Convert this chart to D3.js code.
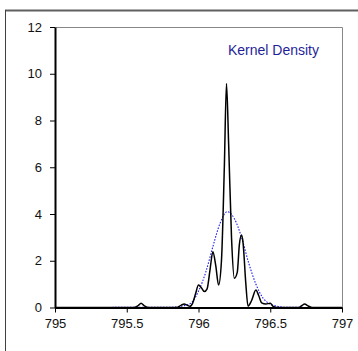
<!DOCTYPE html>
<html><head><meta charset="utf-8">
<script src="https://cdn.jsdelivr.net/npm/d3@7/dist/d3.min.js"></script>
<style>body{margin:0;background:#fff}svg{display:block}text{font-family:"Liberation Sans",Arial,sans-serif}</style>
</head><body><div id="c"></div>
<script>
const xTicks = [795, 795.5, 796, 796.5, 797];
const yTicks = [0, 2, 4, 6, 8, 10, 12];
const legendLabel = "Kernel Density";
// black spectrum curve (x, y)
const specX = [795.00,795.55,795.58,795.60,795.62,795.65,795.85,795.88,795.90,795.92,795.94,795.96,795.98,796.00,796.02,796.04,796.06,796.08,796.10,796.12,796.14,796.16,796.18,796.195,796.21,796.23,796.25,796.27,796.285,796.30,796.31,796.33,796.345,796.37,796.40,796.42,796.44,796.47,796.50,796.52,796.55,796.70,796.72,796.74,796.76,796.79,797.00];
const specY = [0,0,0.08,0.18,0.08,0,0,0.1,0.15,0.1,0.05,0.2,0.6,0.96,0.85,0.68,0.8,1.6,2.38,1.8,0.96,2.0,6.0,9.58,7.0,3.0,1.25,1.5,2.7,3.1,2.8,1.0,0.06,0.3,0.75,0.5,0.2,0.15,0.18,0.05,0,0,0.08,0.15,0.08,0,0];
// kernel density curve
const kdeX = [795.00,795.80,795.90,795.95,796.00,796.05,796.10,796.15,796.20,796.25,796.30,796.35,796.40,796.45,796.50,796.55,796.60,796.90,797.00];
const kdeY = [0,0.01,0.08,0.2,0.7,1.5,2.6,3.6,4.1,3.8,3.0,1.9,1.0,0.4,0.15,0.05,0.01,0,0];

const W = 358, H = 351;
const L = 55, R = 342, T = 27, B = 307.5;
const svg = d3.select("#c").append("svg").attr("width", W).attr("height", H);

// outer frame
svg.append("line").attr("x1",5).attr("x2",W).attr("y1",10.5).attr("y2",10.5).attr("stroke","#606060").attr("stroke-width",2);
svg.append("line").attr("x1",5.5).attr("x2",5.5).attr("y1",10).attr("y2",H).attr("stroke","#404040").attr("stroke-width",1);

const x = d3.scaleLinear().domain([795,797]).range([L,R]);
const y = d3.scaleLinear().domain([0,12]).range([B,T]);

// plot border top/right
svg.append("path").attr("d",`M${L},${T+0.5}H${R+0.5}V${B}`).attr("fill","none").attr("stroke","#888").attr("stroke-width",1);

const line = d3.line().x(d=>x(d[0])).y(d=>y(d[1])).curve(d3.curveMonotoneX);
svg.append("path").datum(kdeX.map((v,i)=>[v,kdeY[i]])).attr("d",line)
  .attr("fill","none").attr("stroke","#1a1aee").attr("stroke-width",1.1).attr("stroke-dasharray","1.5,1.5");
svg.append("path").datum(specX.map((v,i)=>[v,specY[i]])).attr("d",line)
  .attr("fill","none").attr("stroke","#000").attr("stroke-width",1.5);

const yAx = svg.append("g").attr("transform",`translate(${L},0)`)
  .call(d3.axisLeft(y).tickValues(yTicks).tickSize(5).tickSizeOuter(0).tickPadding(8).tickFormat(d3.format("d")));
const xAx = svg.append("g").attr("transform",`translate(0,${B})`)
  .call(d3.axisBottom(x).tickValues(xTicks).tickSize(5).tickSizeOuter(0).tickPadding(6).tickFormat(d=>String(d)));
[yAx,xAx].forEach(g=>{
  g.select(".domain").attr("stroke","#000").attr("stroke-width",2);
  g.selectAll(".tick line").attr("stroke","#000").attr("stroke-width",1);
  g.selectAll("text").attr("font-size",13).attr("fill","#111").attr("font-family","Liberation Sans, Arial, sans-serif");
});

svg.append("text").attr("x",319).attr("y",55).attr("text-anchor","end").attr("font-size",14)
  .attr("fill","#1f1f99").text(legendLabel);
</script></body></html>
